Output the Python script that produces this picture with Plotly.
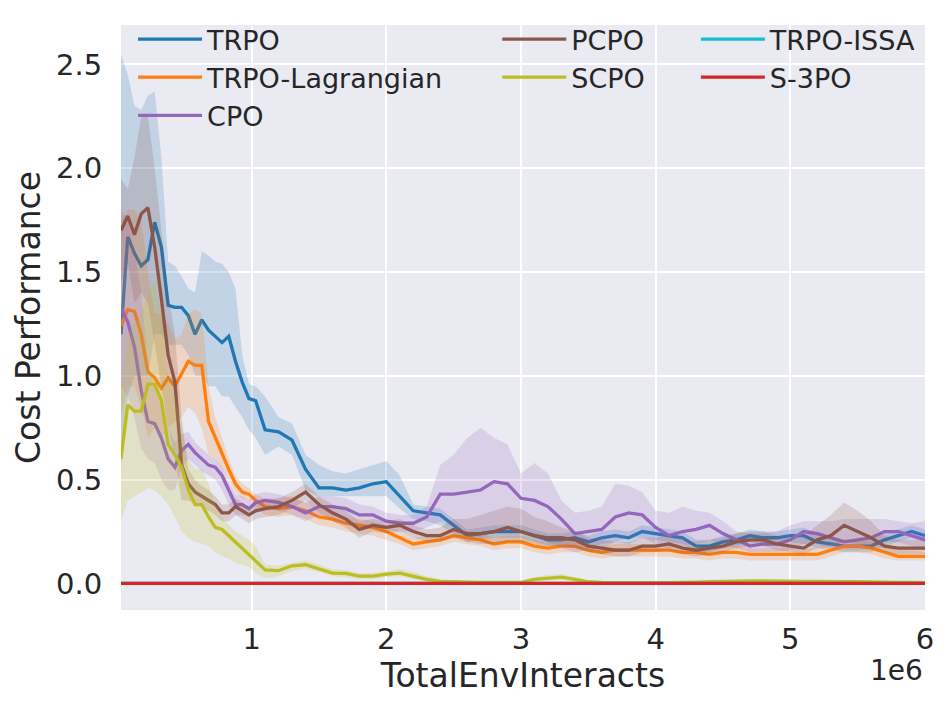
import plotly.graph_objects as go

# TotalEnvInteracts, in millions
steps_m = [0.03, 0.08, 0.13, 0.18, 0.23, 0.28, 0.33, 0.38, 0.43, 0.48, 0.53,
           0.58, 0.63, 0.68, 0.73, 0.78, 0.83, 0.88, 0.93, 0.98, 1.03,
           1.1, 1.2, 1.3, 1.4, 1.5, 1.6, 1.7, 1.8, 1.9, 2.0,
           2.1, 2.2, 2.3, 2.4, 2.5, 2.6, 2.7, 2.8, 2.9, 3.0,
           3.1, 3.2, 3.3, 3.4, 3.5, 3.6, 3.7, 3.8, 3.9, 4.0,
           4.1, 4.2, 4.3, 4.4, 4.5, 4.6, 4.7, 4.8, 4.9, 5.0,
           5.1, 5.2, 5.3, 5.4, 5.5, 5.6, 5.7, 5.8, 5.9, 6.0]

trpo = [1.20, 1.67, 1.59, 1.53, 1.56, 1.74, 1.62, 1.34, 1.33, 1.33, 1.29,
        1.20, 1.27, 1.22, 1.19, 1.16, 1.19, 1.07, 0.97, 0.89, 0.88,
        0.74, 0.73, 0.69, 0.55, 0.46, 0.46, 0.45, 0.46, 0.48, 0.49,
        0.42, 0.35, 0.34, 0.33, 0.28, 0.23, 0.24, 0.25, 0.25, 0.25,
        0.23, 0.21, 0.21, 0.22, 0.20, 0.22, 0.23, 0.22, 0.25, 0.24,
        0.23, 0.22, 0.18, 0.18, 0.20, 0.21, 0.23, 0.22, 0.22, 0.23,
        0.23, 0.20, 0.19, 0.18, 0.18, 0.18, 0.21, 0.23, 0.25, 0.23]
trpo_hi = [2.55, 2.45, 2.30, 2.28, 2.35, 2.37, 2.05, 1.55, 1.53, 1.48, 1.42,
           1.40, 1.60, 1.58, 1.55, 1.54, 1.50, 1.42, 1.10, 0.96, 0.95,
           0.90, 0.80, 0.77, 0.62, 0.57, 0.54, 0.53, 0.55, 0.57, 0.59,
           0.52, 0.38, 0.37, 0.36, 0.31, 0.26, 0.27, 0.28, 0.28, 0.28,
           0.26, 0.24, 0.24, 0.25, 0.23, 0.25, 0.26, 0.25, 0.28, 0.27,
           0.26, 0.25, 0.21, 0.21, 0.23, 0.24, 0.26, 0.25, 0.25, 0.26,
           0.27, 0.24, 0.22, 0.21, 0.21, 0.21, 0.24, 0.26, 0.28, 0.26]
trpo_lo = [0.55, 0.90, 1.00, 1.00, 1.00, 1.20, 1.20, 1.15, 1.15, 1.15, 1.10,
           1.00, 1.00, 0.95, 0.95, 0.90, 0.90, 0.85, 0.80, 0.74, 0.70,
           0.62, 0.66, 0.62, 0.45, 0.42, 0.42, 0.42, 0.42, 0.42, 0.42,
           0.36, 0.31, 0.30, 0.28, 0.24, 0.20, 0.21, 0.22, 0.22, 0.22,
           0.20, 0.18, 0.18, 0.19, 0.17, 0.19, 0.20, 0.19, 0.22, 0.21,
           0.20, 0.19, 0.15, 0.15, 0.17, 0.18, 0.20, 0.19, 0.19, 0.20,
           0.19, 0.17, 0.16, 0.15, 0.15, 0.15, 0.18, 0.20, 0.22, 0.20]

lag = [1.24, 1.32, 1.31, 1.20, 1.02, 0.99, 0.94, 0.99, 0.95, 1.01, 1.07,
       1.05, 1.05, 0.78, 0.70, 0.62, 0.55, 0.48, 0.44, 0.43, 0.40,
       0.37, 0.36, 0.37, 0.35, 0.32, 0.31, 0.29, 0.28, 0.27, 0.25,
       0.22, 0.19, 0.20, 0.21, 0.23, 0.22, 0.21, 0.19, 0.20, 0.20,
       0.18, 0.17, 0.18, 0.18, 0.16, 0.15, 0.16, 0.16, 0.16, 0.16,
       0.16, 0.15, 0.15, 0.14, 0.15, 0.15, 0.14, 0.14, 0.14, 0.14,
       0.14, 0.14, 0.16, 0.18, 0.18, 0.17, 0.15, 0.13, 0.13, 0.13]
lag_hi = [1.75, 1.80, 1.80, 1.75, 1.50, 1.30, 1.30, 1.25, 1.18, 1.20, 1.30,
          1.32, 1.30, 0.95, 0.80, 0.70, 0.60, 0.52, 0.48, 0.46, 0.43,
          0.41, 0.41, 0.42, 0.39, 0.36, 0.35, 0.32, 0.31, 0.30, 0.28,
          0.25, 0.22, 0.23, 0.24, 0.26, 0.25, 0.24, 0.22, 0.23, 0.23,
          0.21, 0.20, 0.21, 0.21, 0.19, 0.18, 0.19, 0.19, 0.19, 0.19,
          0.19, 0.18, 0.18, 0.17, 0.18, 0.18, 0.17, 0.17, 0.17, 0.17,
          0.17, 0.17, 0.19, 0.21, 0.21, 0.20, 0.18, 0.16, 0.16, 0.15]
lag_lo = [0.80, 0.95, 0.95, 0.85, 0.70, 0.75, 0.70, 0.75, 0.78, 0.80, 0.85,
          0.82, 0.75, 0.62, 0.60, 0.55, 0.50, 0.44, 0.41, 0.40, 0.37,
          0.33, 0.32, 0.33, 0.31, 0.28, 0.27, 0.25, 0.24, 0.23, 0.21,
          0.19, 0.16, 0.17, 0.18, 0.20, 0.19, 0.18, 0.16, 0.17, 0.17,
          0.15, 0.14, 0.15, 0.15, 0.13, 0.12, 0.13, 0.13, 0.13, 0.13,
          0.13, 0.12, 0.12, 0.11, 0.12, 0.12, 0.11, 0.11, 0.11, 0.11,
          0.11, 0.11, 0.13, 0.15, 0.15, 0.14, 0.12, 0.11, 0.11, 0.11]

cpo = [1.33, 1.26, 1.14, 0.93, 0.78, 0.77, 0.70, 0.60, 0.56, 0.64, 0.67,
       0.63, 0.60, 0.57, 0.56, 0.52, 0.45, 0.38, 0.38, 0.36, 0.39,
       0.40, 0.39, 0.37, 0.34, 0.37, 0.37, 0.36, 0.33, 0.33, 0.30,
       0.29, 0.29, 0.32, 0.43, 0.43, 0.44, 0.45, 0.49, 0.48, 0.41,
       0.40, 0.37, 0.31, 0.24, 0.25, 0.26, 0.32, 0.34, 0.33, 0.27,
       0.23, 0.25, 0.26, 0.28, 0.24, 0.21, 0.18, 0.19, 0.19, 0.21,
       0.25, 0.24, 0.22, 0.20, 0.21, 0.22, 0.25, 0.25, 0.23, 0.21]
cpo_hi = [1.80, 1.75, 1.60, 1.40, 1.05, 0.95, 0.90, 0.75, 0.68, 0.72, 0.73,
          0.68, 0.65, 0.62, 0.60, 0.56, 0.49, 0.43, 0.42, 0.40, 0.43,
          0.44, 0.43, 0.41, 0.39, 0.42, 0.42, 0.41, 0.38, 0.37, 0.34,
          0.33, 0.33, 0.37, 0.57, 0.62, 0.70, 0.75, 0.70, 0.67, 0.53,
          0.58, 0.53, 0.40, 0.34, 0.35, 0.37, 0.48, 0.47, 0.44, 0.35,
          0.34, 0.37, 0.35, 0.34, 0.30, 0.25, 0.24, 0.24, 0.25, 0.28,
          0.30, 0.30, 0.30, 0.31, 0.31, 0.31, 0.31, 0.30, 0.29, 0.30]
cpo_lo = [0.95, 0.90, 0.80, 0.65, 0.60, 0.58, 0.50, 0.45, 0.45, 0.56, 0.60,
          0.57, 0.54, 0.52, 0.50, 0.45, 0.38, 0.33, 0.33, 0.32, 0.35,
          0.36, 0.35, 0.33, 0.30, 0.33, 0.32, 0.30, 0.28, 0.28, 0.26,
          0.25, 0.25, 0.27, 0.30, 0.27, 0.24, 0.22, 0.25, 0.25, 0.25,
          0.23, 0.20, 0.17, 0.15, 0.16, 0.17, 0.20, 0.22, 0.22, 0.19,
          0.17, 0.18, 0.19, 0.21, 0.19, 0.17, 0.15, 0.15, 0.15, 0.16,
          0.19, 0.19, 0.17, 0.16, 0.16, 0.17, 0.20, 0.20, 0.18, 0.16]

pcpo = [1.70, 1.77, 1.68, 1.78, 1.81, 1.62, 1.37, 1.10, 0.97, 0.57, 0.48,
        0.44, 0.42, 0.40, 0.38, 0.34, 0.34, 0.37, 0.35, 0.33, 0.35,
        0.36, 0.37, 0.40, 0.44, 0.38, 0.34, 0.31, 0.26, 0.28, 0.27,
        0.28, 0.25, 0.23, 0.23, 0.26, 0.24, 0.24, 0.25, 0.27, 0.25,
        0.23, 0.22, 0.22, 0.21, 0.18, 0.17, 0.16, 0.16, 0.18, 0.18,
        0.19, 0.17, 0.16, 0.17, 0.18, 0.20, 0.21, 0.21, 0.19, 0.18,
        0.17, 0.21, 0.23, 0.28, 0.25, 0.22, 0.18, 0.17, 0.17, 0.17]
pcpo_hi = [1.95, 1.90, 2.05, 2.25, 2.25, 2.00, 1.70, 1.40, 1.20, 0.80, 0.55,
           0.50, 0.47, 0.45, 0.42, 0.38, 0.38, 0.41, 0.39, 0.37, 0.39,
           0.40, 0.41, 0.44, 0.48, 0.42, 0.38, 0.35, 0.30, 0.31, 0.30,
           0.31, 0.28, 0.26, 0.27, 0.31, 0.31, 0.33, 0.35, 0.37, 0.36,
           0.32, 0.30, 0.27, 0.25, 0.22, 0.21, 0.20, 0.20, 0.22, 0.22,
           0.23, 0.21, 0.20, 0.21, 0.22, 0.24, 0.25, 0.25, 0.23, 0.22,
           0.23, 0.28, 0.33, 0.39, 0.35, 0.30, 0.23, 0.21, 0.21, 0.21]
pcpo_lo = [1.45, 1.55, 1.35, 1.40, 1.35, 1.15, 0.95, 0.75, 0.60, 0.40, 0.40,
           0.38, 0.37, 0.35, 0.33, 0.30, 0.30, 0.33, 0.31, 0.29, 0.31,
           0.32, 0.33, 0.36, 0.40, 0.34, 0.30, 0.27, 0.22, 0.25, 0.24,
           0.25, 0.22, 0.20, 0.20, 0.22, 0.20, 0.19, 0.19, 0.20, 0.20,
           0.19, 0.18, 0.18, 0.17, 0.15, 0.14, 0.13, 0.13, 0.15, 0.15,
           0.16, 0.14, 0.13, 0.14, 0.15, 0.17, 0.18, 0.18, 0.16, 0.15,
           0.14, 0.17, 0.18, 0.20, 0.19, 0.17, 0.15, 0.14, 0.14, 0.14]

scpo = [0.60, 0.86, 0.83, 0.83, 0.96, 0.96, 0.88, 0.67, 0.62, 0.56, 0.45,
        0.38, 0.38, 0.32, 0.27, 0.26, 0.23, 0.20, 0.17, 0.14, 0.11,
        0.065, 0.062, 0.085, 0.09, 0.072, 0.05, 0.048, 0.035, 0.035, 0.045,
        0.05, 0.035, 0.02, 0.01, 0.008, 0.005, 0.005, 0.005, 0.005, 0.005,
        0.02, 0.025, 0.03, 0.02, 0.008, 0.005, 0.004, 0.004, 0.004, 0.004,
        0.004, 0.004, 0.006, 0.008, 0.01, 0.012, 0.012, 0.012, 0.01, 0.01,
        0.01, 0.01, 0.008, 0.008, 0.008, 0.006, 0.006, 0.005, 0.005, 0.004]
scpo_hi = [0.90, 1.20, 1.25, 1.30, 1.40, 1.45, 1.30, 1.00, 0.90, 0.75, 0.60,
           0.55, 0.55, 0.48, 0.38, 0.32, 0.28, 0.25, 0.23, 0.21, 0.18,
           0.09, 0.085, 0.10, 0.11, 0.09, 0.07, 0.065, 0.05, 0.05, 0.06,
           0.07, 0.055, 0.035, 0.02, 0.015, 0.01, 0.01, 0.01, 0.01, 0.01,
           0.03, 0.04, 0.045, 0.03, 0.015, 0.01, 0.008, 0.008, 0.008, 0.008,
           0.008, 0.008, 0.01, 0.014, 0.016, 0.018, 0.018, 0.018, 0.016, 0.015,
           0.015, 0.015, 0.013, 0.013, 0.012, 0.01, 0.01, 0.009, 0.008, 0.007]
scpo_lo = [0.30, 0.40, 0.42, 0.44, 0.46, 0.45, 0.42, 0.38, 0.32, 0.25, 0.22,
           0.20, 0.19, 0.18, 0.15, 0.13, 0.12, 0.10, 0.09, 0.08, 0.05,
           0.025, 0.035, 0.06, 0.07, 0.055, 0.035, 0.03, 0.02, 0.02, 0.03,
           0.035, 0.02, 0.01, 0.004, 0.002, 0.001, 0.001, 0.001, 0.001, 0.001,
           0.012, 0.015, 0.018, 0.01, 0.002, 0.001, 0.001, 0.001, 0.001, 0.001,
           0.001, 0.001, 0.002, 0.003, 0.005, 0.006, 0.006, 0.006, 0.005, 0.005,
           0.005, 0.005, 0.004, 0.004, 0.004, 0.003, 0.003, 0.002, 0.002, 0.002]

zero_cost = [0.0] * len(steps_m)

y_ticks = [0.0, 0.5, 1.0, 1.5, 2.0, 2.5]
x_ticks_m = [1, 2, 3, 4, 5, 6]

series = [
    # name, mean, hi, lo, colour, legend column
    ("TRPO", trpo, trpo_hi, trpo_lo, "#1f77b4", "legend"),
    ("TRPO-Lagrangian", lag, lag_hi, lag_lo, "#ff7f0e", "legend"),
    ("CPO", cpo, cpo_hi, cpo_lo, "#9467bd", "legend"),
    ("PCPO", pcpo, pcpo_hi, pcpo_lo, "#8c564b", "legend2"),
    ("SCPO", scpo, scpo_hi, scpo_lo, "#bcbd22", "legend2"),
    ("TRPO-ISSA", zero_cost, zero_cost, zero_cost, "#17becf", "legend3"),
    ("S-3PO", zero_cost, zero_cost, zero_cost, "#d62728", "legend3"),
]


def rgba(hex_col, a):
    h = hex_col.lstrip("#")
    return "rgba(%d,%d,%d,%.2f)" % (int(h[0:2], 16), int(h[2:4], 16), int(h[4:6], 16), a)


x = [s * 1e6 for s in steps_m]

fig = go.Figure()
for name, mean, hi, lo, col, leg in series:
    fig.add_trace(go.Scatter(
        x=x + x[::-1], y=hi + lo[::-1], fill="toself",
        fillcolor=rgba(col, 0.2), line=dict(width=0),
        mode="lines", hoverinfo="skip", showlegend=False))
    fig.add_trace(go.Scatter(
        x=x, y=mean, mode="lines", name=name,
        line=dict(color=col, width=3.3), legend=leg))

font = "DejaVu Sans, sans-serif"
txt = "#262626"
leg_common = dict(bgcolor="rgba(0,0,0,0)", borderwidth=0, yanchor="top", y=1.017,
                  xanchor="left", font=dict(family=font, size=27, color=txt),
                  tracegroupgap=0, itemwidth=64)

# the page body adds an 8px offset, so margins are shifted by 8px to compensate
fig.update_layout(
    width=950, height=710,
    margin=dict(l=113, r=33, t=7, b=108),
    paper_bgcolor="white", plot_bgcolor="#EAEAF2",
    font=dict(family=font, size=29, color=txt),
    showlegend=True,
    legend=dict(x=0.015, **leg_common),
    legend2=dict(x=0.468, **leg_common),
    legend3=dict(x=0.715, **leg_common),
    xaxis=dict(
        range=[0.03e6, 6e6], tickvals=[t * 1e6 for t in x_ticks_m],
        ticktext=[str(t) for t in x_ticks_m], automargin=False,
        showgrid=True, gridcolor="white", gridwidth=1.6, zeroline=False,
        showline=False, ticks="outside", ticklen=3, tickcolor="rgba(0,0,0,0)",
        tickfont=dict(size=29),
        title=dict(text="TotalEnvInteracts", font=dict(size=33), standoff=0)),
    yaxis=dict(
        range=[-0.128, 2.69], tickvals=y_ticks,
        ticktext=["%.1f" % v for v in y_ticks], automargin=False,
        showgrid=True, gridcolor="white", gridwidth=1.6, zeroline=False,
        showline=False, ticks="outside", ticklen=12, tickcolor="rgba(0,0,0,0)",
        tickfont=dict(size=29),
        title=dict(text="Cost Performance", font=dict(size=33), standoff=5)),
    annotations=[dict(text="1e6", xref="paper", yref="paper", x=0.964, y=-0.104,
                      showarrow=False, xanchor="center", yanchor="middle",
                      font=dict(size=28, color=txt))],
)

fig.write_html("out.html")
